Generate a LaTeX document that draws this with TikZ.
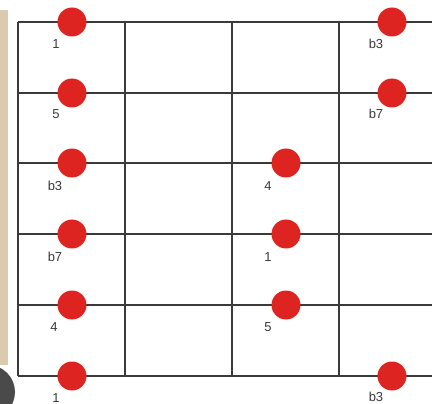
\documentclass[tikz,border=0pt]{standalone}
\usepackage{fontspec}
\setmainfont{Liberation Sans}
\definecolor{dotred}{HTML}{DD2420}
\definecolor{gridc}{HTML}{3A3A3A}
\definecolor{beige}{HTML}{DCCAAF}
\definecolor{darkc}{HTML}{4A4A4A}
\begin{document}
\begin{tikzpicture}[x=1pt,y=-1pt,
  dot/.style={circle,fill=dotred,draw=none,minimum size=29pt,inner sep=0pt},
  lbl/.style={font=\fontsize{13}{15}\selectfont,text=gridc,inner sep=0pt},
  gridline/.style={draw=gridc,line width=1.1pt}]
\useasboundingbox (0,0) rectangle (432,404);
\fill[white] (0,0) rectangle (432,404);
% beige strip and dark shape at left
\fill[beige] (0,10) rectangle (8,365);
\fill[darkc] (-12,392) circle (27);
% fretboard grid
\foreach \y in {22,93,163,234,305,376} \draw[gridline] (18,\y) -- (432,\y);
\foreach \x in {18,125,232,339} \draw[gridline] (\x,22) -- (\x,376);
% dots
\node[dot] (d11) at (72,22) {};
\node[dot] (d12) at (392,22) {};
\node[dot] (d21) at (72,93) {};
\node[dot] (d22) at (392,93) {};
\node[dot] (d31) at (72,163) {};
\node[dot] (d32) at (286,163) {};
\node[dot] (d41) at (72,234) {};
\node[dot] (d42) at (286,234) {};
\node[dot] (d51) at (72,305) {};
\node[dot] (d52) at (286,305) {};
\node[dot] (d61) at (72,376) {};
\node[dot] (d62) at (392,376) {};
% labels
\node[lbl] (l11) at (56,44) {1};
\node[lbl] (l12) at (376,44) {b3};
\node[lbl] (l21) at (56,114) {5};
\node[lbl] (l22) at (376,114) {b7};
\node[lbl] (l31) at (55,186) {b3};
\node[lbl] (l32) at (268,186) {4};
\node[lbl] (l41) at (55,257) {b7};
\node[lbl] (l42) at (268,257) {1};
\node[lbl] (l51) at (54,327) {4};
\node[lbl] (l52) at (268,327) {5};
\node[lbl] (l61) at (56,398) {1};
\node[lbl] (l62) at (376,397) {b3};
\end{tikzpicture}
\end{document}
